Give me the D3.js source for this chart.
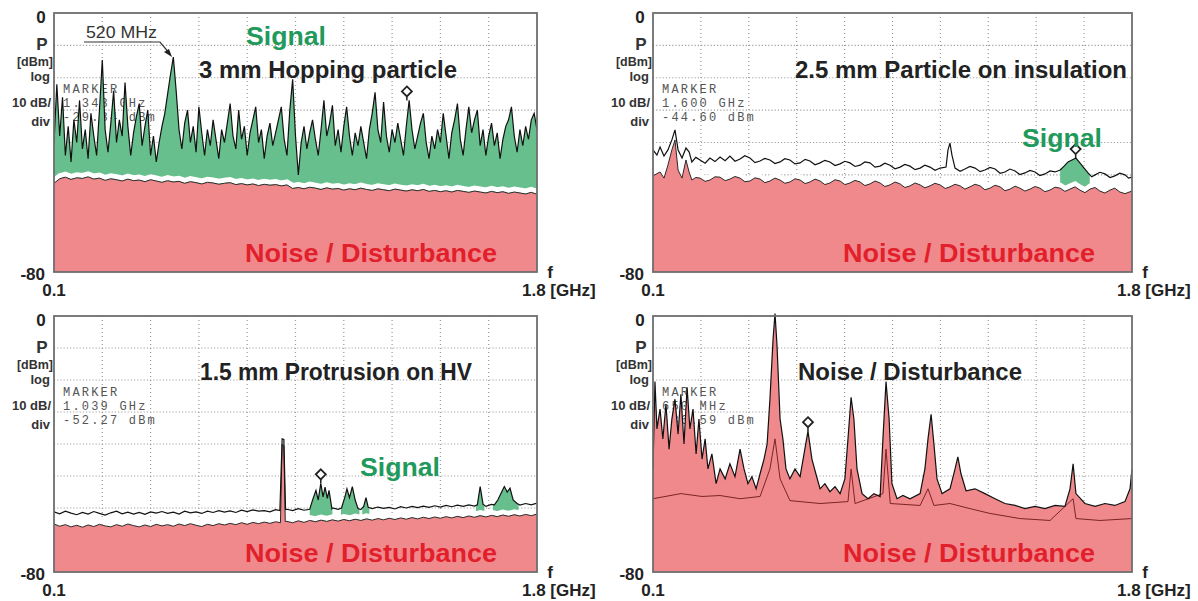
<!DOCTYPE html>
<html>
<head>
<meta charset="utf-8">
<script src="https://cdn.jsdelivr.net/npm/d3@7"></script>
<style>
  body { margin: 0; background: #fff; }
  svg text { font-family: "Liberation Sans", Arial, sans-serif; font-weight: bold; }
  .mk { font-family: "Liberation Mono", "DejaVu Sans Mono", monospace; font-weight: normal; font-size: 12px; fill: #555; letter-spacing: 2.2px; }
</style>
</head>
<body>
<div id="chart"></div>
<script>
// sweep range of the analyser, GHz, and level range, dBm
const fStart = 0.1, fStop = 1.8;
const levelTop = 0, levelBottom = -80;
const levelLabels = ["0", "-80"];
const freqLabels = ["0.1", "1.8 [GHz]"];
const axisNames = ["P", "[dBm]", "log", "10 dB/", "div"];

// ---- panel A : 3 mm hopping particle (signal trace, 0.01 GHz steps)
const sigA = [-40,-22,-38,-26,-44,-35,-46,-33,-40,-27,
  -42,-36,-45,-31,-38,-44,-30,-14.5,-36,-43,
  -34,-24,-40,-33,-38,-21.5,-35,-44,-37,-32,
  -28,-41,-35,-30,-44,-38,-46,-40,-35,-31,
  -25,-19,-13.6,-24,-36,-42,-34,-30,-40,-35,
  -43,-29,-37,-44,-36,-41,-33,-39,-45,-36,
  -40,-34,-28,-38,-42,-30,-39,-35,-44,-37,
  -33,-29,-40,-36,-45,-38,-34,-41,-37,-33,
  -29,-39,-44,-30,-20.5,-38,-50,-40,-35,-42,
  -37,-33,-39,-44,-36,-27,-38,-34,-28.5,-41,
  -36,-43,-35,-29,-38,-44,-37,-41,-35,-40,
  -45,-36,-31,-24.5,-36,-40,-27.5,-38,-43,-36,
  -40,-34,-39,-44,-35,-27,-36,-42,-38,-34,
  -31,-40,-45,-38,-42,-36,-40,-31,-38,-45,
  -37,-33,-28,-39,-44,-36,-29,-37,-33,-30,
  -41,-36,-44,-38,-34,-41,-37,-45,-39,-35,
  -33,-29,-38,-43,-36,-41,-35,-39,-33,-31,-36];
// noise trace, 0.02 GHz steps
const noiseA = [-52.6,-51.2,-50.7,-51.4,-50.9,-51.1,-50.6,-51.3,-51.0,-51.7,
  -51.2,-51.5,-51.9,-51.3,-51.8,-51.6,-52.1,-51.5,-51.9,-52.3,
  -51.8,-52.2,-52.0,-52.6,-52.1,-52.4,-52.8,-52.3,-52.5,-52.9,
  -52.6,-52.4,-53.0,-52.7,-53.1,-52.8,-53.3,-52.9,-53.2,-53.0,
  -53.4,-53.1,-54.2,-53.9,-54.3,-53.8,-54.1,-54.5,-54.0,-54.4,
  -54.2,-54.7,-54.3,-54.6,-54.1,-54.5,-54.8,-54.3,-54.6,-54.9,
  -54.4,-54.7,-55.0,-54.6,-54.9,-54.5,-55.1,-54.8,-55.2,-54.9,
  -55.3,-54.8,-55.1,-55.4,-55.0,-55.3,-55.6,-55.1,-55.5,-55.2,
  -55.7,-55.3,-55.6,-55.9,-55.4,-56.0];
const greenA = [[0.1, 1.8]];
const markerA = { f: 1.342, db: -27, text: ["MARKER", "1.343 GHz", "-29.34 dBm"] };

// ---- panel B : 2.5 mm particle on insulation  [GHz, dBm]
const upperB = [[.100,-42.3],[.114,-43.9],[.125,-41.4],[.139,-44.2],[.153,-42.3],[.167,-39.2],
  [.178,-36.1],[.189,-42.3],[.203,-44.8],[.217,-41.7],[.228,-42.9],[.238,-46.0],[.252,-44.6],
  [.267,-45.4],[.285,-46.4],[.302,-44.8],[.320,-45.9],[.338,-44.5],[.356,-45.6],[.373,-44.2],
  [.391,-45.8],[.409,-45.1],[.426,-44.1],[.444,-44.8],[.462,-46.2],[.480,-45.7],[.497,-44.9],
  [.515,-45.4],[.533,-46.5],[.551,-46.0],[.568,-45.0],[.586,-45.4],[.604,-46.6],[.622,-46.3],
  [.640,-45.2],[.657,-45.7],[.675,-46.9],[.693,-46.3],[.710,-45.5],[.728,-46.0],[.746,-47.1],
  [.764,-46.6],[.781,-45.8],[.799,-46.3],[.817,-47.4],[.835,-47.0],[.852,-46.0],[.870,-46.3],
  [.888,-47.6],[.906,-47.3],[.923,-46.4],[.941,-47.0],[.959,-48.1],[.977,-47.6],[.994,-46.8],
  [1.012,-47.3],[1.030,-48.4],[1.048,-47.9],[1.065,-47.0],[1.083,-47.6],[1.101,-48.6],
  [1.119,-47.9],[1.140,-47.6],[1.147,-42.3],[1.154,-40.2],[1.161,-43.9],[1.172,-47.9],
  [1.190,-48.9],[1.207,-48.2],[1.225,-47.4],[1.243,-47.9],[1.261,-49.0],[1.278,-48.5],
  [1.296,-47.7],[1.314,-48.2],[1.332,-49.5],[1.349,-49.1],[1.367,-48.2],[1.385,-48.8],
  [1.402,-49.9],[1.420,-49.4],[1.438,-48.6],[1.456,-49.1],[1.473,-50.2],[1.491,-49.7],
  [1.509,-48.8],[1.527,-49.1],[1.545,-48.5],[1.559,-47.3],[1.573,-46.0],[1.587,-45.4],
  [1.601,-44.8],[1.615,-46.3],[1.630,-47.9],[1.644,-49.4],[1.657,-50.6],[1.669,-50.0],
  [1.686,-49.2],[1.704,-49.7],[1.722,-50.8],[1.739,-50.3],[1.757,-49.5],[1.775,-50.0],
  [1.788,-51.0],[1.800,-50.7]];
const noiseB = [[.100,-50.3],[.125,-49.1],[.139,-51.0],[.153,-47.0],[.167,-42.3],[.178,-39.2],
  [.189,-48.5],[.203,-51.0],[.217,-45.4],[.228,-49.1],[.238,-51.6],[.252,-50.8],[.267,-51.0],
  [.285,-52.0],[.302,-51.6],[.320,-50.6],[.338,-50.7],[.356,-51.8],[.373,-51.3],[.391,-50.5],
  [.409,-51.0],[.426,-52.1],[.444,-51.9],[.462,-50.9],[.480,-51.3],[.497,-52.4],[.515,-51.9],
  [.533,-51.0],[.551,-51.6],[.568,-52.6],[.586,-52.2],[.604,-51.2],[.622,-51.6],[.640,-52.7],
  [.657,-52.2],[.675,-51.3],[.693,-51.9],[.710,-53.0],[.728,-52.5],[.746,-51.5],[.764,-51.9],
  [.781,-53.0],[.799,-52.5],[.817,-51.7],[.835,-52.2],[.852,-53.3],[.870,-52.8],[.888,-51.9],
  [.906,-52.5],[.923,-53.6],[.941,-53.1],[.959,-52.2],[.977,-52.8],[.994,-53.9],[1.012,-53.4],
  [1.030,-52.5],[1.048,-53.1],[1.065,-54.0],[1.083,-53.4],[1.101,-52.6],[1.119,-53.1],
  [1.137,-54.2],[1.154,-53.7],[1.172,-52.9],[1.190,-53.4],[1.207,-54.4],[1.225,-53.7],
  [1.243,-52.9],[1.261,-53.4],[1.278,-54.6],[1.296,-54.1],[1.314,-53.2],[1.332,-53.7],
  [1.349,-54.9],[1.367,-54.4],[1.385,-53.5],[1.402,-54.1],[1.420,-55.0],[1.438,-54.4],
  [1.456,-53.6],[1.473,-54.1],[1.491,-55.2],[1.509,-54.7],[1.527,-53.8],[1.545,-54.1],
  [1.562,-55.1],[1.580,-54.4],[1.598,-53.7],[1.615,-54.7],[1.633,-55.5],[1.651,-54.4],
  [1.669,-53.9],[1.686,-55.0],[1.704,-55.6],[1.722,-54.7],[1.739,-54.1],[1.757,-55.3],
  [1.775,-55.8],[1.800,-55.0]];
const greenB = [[1.545, 1.65]];
const markerB = { f: 1.600, db: -44.8, text: ["MARKER", "1.600 GHz", "-44.60 dBm"] };

// ---- panel C : 1.5 mm protrusion on HV (0.02 GHz steps + peaks)
const upperC = [-61.2,-61.8,-61.0,-61.6,-62.1,-61.4,-61.9,-61.1,-61.7,-62.2,
  -61.5,-61.0,-61.8,-61.3,-61.9,-61.4,-62.0,-61.2,-61.6,-61.1,
  -61.7,-61.3,-61.9,-61.0,-61.5,-61.2,-61.7,-61.0,-61.4,-60.8,
  -61.3,-60.9,-61.4,-60.7,-61.1,-60.6,-61.0,-60.8,-61.2,-60.5,
  -60.9,-60.4,-60.8,-60.2,-60.7,-60.3,-60.6,-60.1,-60.5,-60.0,
  -60.4,-59.9,-60.3,-60.0,-60.5,-59.8,-60.2,-59.7,-60.1,-59.8,
  -60.3,-59.6,-60.0,-59.5,-59.9,-59.4,-59.8,-59.3,-59.7,-59.2,
  -59.6,-59.1,-59.5,-59.0,-59.4,-59.1,-59.5,-58.9,-59.3,-58.8,
  -59.2,-58.7,-59.1,-58.6,-59.0,-58.5];
const noiseC = [-65.0,-65.7,-65.2,-65.9,-65.4,-66.0,-65.3,-65.8,-65.1,-65.6,
  -65.9,-65.2,-65.7,-65.0,-65.5,-65.9,-65.3,-65.8,-65.1,-65.6,
  -65.2,-65.7,-65.0,-65.5,-64.9,-65.4,-65.8,-65.1,-65.5,-64.9,
  -65.3,-64.8,-65.2,-64.6,-65.1,-64.5,-64.9,-64.4,-64.8,-64.3,
  -64.7,-64.2,-64.6,-64.0,-64.5,-63.9,-64.3,-63.8,-64.2,-63.7,
  -64.1,-63.6,-64.0,-63.5,-63.9,-63.4,-63.8,-63.3,-63.7,-63.2,
  -63.6,-63.1,-63.5,-63.0,-63.4,-62.9,-63.3,-62.8,-63.2,-62.7,
  -63.1,-62.6,-63.0,-62.5,-62.9,-62.4,-62.8,-62.3,-62.7,-62.2,
  -62.6,-62.1,-62.5,-62.0,-62.4,-61.9];
const upperPeaksC = [
  [[.895,-60.8],[.903,-38.4],[.909,-38.6],[.915,-60.5]],
  [[1.000,-60.4],[1.012,-57],[1.022,-54.5],[1.030,-57.5],[1.039,-52.3],[1.047,-56.5],[1.054,-53.5],[1.062,-57],[1.068,-54.5],[1.078,-60.2]],
  [[1.112,-60.0],[1.124,-56.5],[1.131,-54.0],[1.140,-56.8],[1.150,-53.3],[1.160,-57.5],[1.170,-60.2]],
  [[1.190,-59.5],[1.198,-56.8],[1.206,-59.8]],
  [[1.590,-59.0],[1.600,-53.3],[1.610,-58.8]],
  [[1.650,-59.0],[1.662,-57.5],[1.673,-55.5],[1.685,-53.3],[1.695,-55.0],[1.705,-53.8],[1.716,-57.5],[1.730,-58.6]]
];
const noisePeaksC = [[[.897,-64.6],[.903,-40],[.909,-40.5],[.914,-64.2]]];
const greenC = [[1.0, 1.08], [1.11, 1.175], [1.185, 1.21], [1.585, 1.615], [1.645, 1.735]];
const markerC = { f: 1.039, db: -52.3, text: ["MARKER", "1.039 GHz", "-52.27 dBm"] };

// ---- panel D : noise / disturbance only
const upperD = [[.100,-47.8],[.107,-20.5],[.114,-35.3],[.125,-29.1],[.135,-38.4],[.146,-27.6],
  [.157,-41.6],[.167,-32.2],[.178,-26.0],[.189,-36.9],[.199,-24.5],[.210,-40.0],[.221,-22.3],
  [.231,-35.3],[.242,-29.1],[.253,-43.1],[.263,-32.2],[.274,-44.7],[.285,-38.4],[.295,-47.8],
  [.309,-43.1],[.324,-52.4],[.338,-47.8],[.356,-50.9],[.373,-46.2],[.391,-50.2],[.409,-41.6],
  [.423,-47.8],[.437,-52.4],[.451,-50.2],[.466,-54.0],[.480,-49.3],[.494,-44.7],[.505,-40.0],
  [.515,-26.0],[.526,-7.4],[.533,0.8],[.540,-9.0],[.551,-32.2],[.561,-38.4],[.572,-47.8],
  [.586,-50.9],[.604,-47.8],[.622,-50.2],[.636,-43.1],[.650,-36.0],[.664,-44.7],[.678,-49.3],
  [.693,-54.0],[.710,-52.4],[.728,-54.9],[.746,-53.3],[.764,-55.5],[.781,-50.9],[.792,-38.4],
  [.803,-25.4],[.813,-32.2],[.824,-47.8],[.842,-55.5],[.863,-57.1],[.884,-55.5],[.906,-56.4],
  [.916,-38.4],[.927,-20.5],[.938,-32.2],[.948,-52.4],[.966,-57.1],[.987,-56.1],[1.012,-57.1],
  [1.048,-55.5],[1.065,-47.8],[1.076,-38.4],[1.087,-30.7],[1.097,-40.0],[1.108,-50.9],
  [1.126,-55.5],[1.154,-54.0],[1.172,-47.8],[1.182,-44.0],[1.193,-49.3],[1.211,-54.6],
  [1.243,-54.0],[1.278,-55.5],[1.314,-57.1],[1.349,-58.6],[1.385,-59.2],[1.420,-60.2],
  [1.456,-59.5],[1.491,-60.2],[1.527,-59.2],[1.562,-59.5],[1.580,-54.0],[1.591,-46.2],
  [1.601,-55.5],[1.633,-58.6],[1.669,-59.5],[1.704,-58.6],[1.739,-59.2],[1.775,-58.0],
  [1.793,-54.0],[1.800,-47.8]];
const lowerD = [[.100,-57.1],[.199,-55.5],[.274,-56.4],[.338,-56.1],[.409,-57.1],[.480,-56.4],
  [.515,-47.8],[.533,-38.4],[.551,-50.9],[.586,-57.7],[.693,-58.6],[.792,-58.0],[.803,-47.8],
  [.817,-58.6],[.916,-55.5],[.927,-41.6],[.942,-58.6],[1.048,-59.2],[1.076,-54.0],[1.097,-59.2],
  [1.154,-58.6],[1.225,-60.2],[1.296,-61.7],[1.402,-63.3],[1.509,-63.9],[1.591,-57.1],
  [1.601,-63.3],[1.686,-63.9],[1.800,-63.3]];
const markerD = { f: 0.650, db: -36.0, text: ["MARKER", "650 MHz", "-36.59 dBm"] };

// ---------------------------------------------------------------------
function sweep(vals) {
  const idx = d3.scaleLinear().domain([0, vals.length - 1]).range([fStart, fStop]);
  return vals.map((v, i) => [idx(i), v]);
}
function withPeaks(base, groups) {
  let pts = base.filter(p => !groups.some(g => p[0] >= g[0][0] && p[0] <= g[g.length - 1][0]));
  groups.forEach(g => { pts = pts.concat(g); });
  return pts.sort((a, b) => a[0] - b[0]);
}

const w = 1198, h = 601;
const panels = [
  { x: 54, y: 13, w: 483, h: 259, upper: sweep(sigA), noise: sweep(noiseA), green: greenA, band: true,
    marker: markerA, title: "3 mm Hopping particle", titleX: 199, titleY: 78, titleLen: 258,
    signal: [246, 45], noiseLbl: [245, 262] },
  { x: 653, y: 13, w: 479, h: 259, upper: upperB, noise: noiseB, green: greenB, band: true,
    marker: markerB, title: "2.5 mm Particle on insulation", titleX: 795, titleY: 78, titleLen: 332,
    signal: [1022, 147], noiseLbl: [843, 262] },
  { x: 54, y: 316, w: 483, h: 256, upper: withPeaks(sweep(upperC), upperPeaksC),
    noise: withPeaks(sweep(noiseC), noisePeaksC), green: greenC, band: true,
    marker: markerC, title: "1.5 mm Protrusion on HV", titleX: 200, titleY: 380, titleLen: 272,
    signal: [360, 476], noiseLbl: [245, 562] },
  { x: 653, y: 316, w: 479, h: 256, upper: upperD, noise: lowerD, green: [], band: false, redToUpper: true,
    marker: markerD, title: "Noise / Disturbance", titleX: 798, titleY: 380, titleLen: 224,
    signal: null, noiseLbl: [843, 562] }
];

const svg = d3.select("#chart").append("svg")
  .attr("width", w).attr("height", h)
  .style("background", "#fff");
const defs = svg.append("defs");

panels.forEach((p, k) => {
  const x = d3.scaleLinear().domain([fStart, fStop]).range([p.x, p.x + p.w]);
  const y = d3.scaleLinear().domain([levelBottom, levelTop]).range([p.y + p.h, p.y]);
  const line = d3.line().x(d => x(d[0])).y(d => y(d[1]));
  const g = svg.append("g");

  defs.append("clipPath").attr("id", "clip" + k)
    .append("rect").attr("x", p.x).attr("y", p.y - 5).attr("width", p.w).attr("height", p.h + 5);
  const gc = defs.append("clipPath").attr("id", "green" + k);
  p.green.forEach(r => {
    gc.append("rect").attr("x", x(r[0])).attr("y", p.y).attr("width", x(r[1]) - x(r[0])).attr("height", p.h);
  });

  // grid
  const vf = d3.range(1, 10).map(i => fStart + i * (fStop - fStart) / 10);
  g.selectAll(".vg").data(vf).enter().append("line")
    .attr("x1", d => x(d)).attr("x2", d => x(d)).attr("y1", p.y).attr("y2", p.y + p.h)
    .attr("stroke", "#9a9a9a").attr("stroke-width", 1.2).attr("stroke-dasharray", "1,3");
  g.selectAll(".hg").data(d3.range(-70, 0, 10)).enter().append("line")
    .attr("x1", p.x).attr("x2", p.x + p.w).attr("y1", d => y(d)).attr("y2", d => y(d))
    .attr("stroke", "#a0a0a0").attr("stroke-width", 1.2).attr("stroke-dasharray", "1.2,2");

  // marker readout (drawn under the traces)
  g.selectAll(".mk").data(p.marker.text).enter().append("text").attr("class", "mk")
    .attr("x", p.x + 9).attr("y", (d, i) => p.y + 80 + i * 14).text(d => d);

  const tr = g.append("g").attr("clip-path", "url(#clip" + k + ")");
  if (p.green.length) {
    tr.append("path")
      .attr("d", line(p.upper.concat(p.noise.slice().reverse())) + "Z")
      .attr("fill", "#66bf8c").attr("clip-path", "url(#green" + k + ")");
  }
  if (p.band) {
    tr.append("path").attr("d", line(p.noise)).attr("fill", "none")
      .attr("stroke", "#fff").attr("stroke-width", 5).attr("transform", "translate(0,-3)");
  }
  const area = d3.area().x(d => x(d[0])).y0(p.y + p.h).y1(d => y(d[1]));
  tr.append("path").attr("d", area(p.redToUpper ? p.upper : p.noise)).attr("fill", "#f0898c");
  tr.append("path").attr("d", line(p.noise)).attr("fill", "none")
    .attr("stroke", p.redToUpper ? "#7a2426" : "#2a2a2a").attr("stroke-width", 1);
  tr.append("path").attr("d", line(p.upper)).attr("fill", "none")
    .attr("stroke", "#111").attr("stroke-width", 1.2);

  // marker diamond
  const mx = x(p.marker.f), my = y(p.marker.db) - 9;
  g.append("line").attr("x1", mx).attr("x2", mx).attr("y1", my + 5).attr("y2", my + 9)
    .attr("stroke", "#222").attr("stroke-width", 1.5);
  g.append("path").attr("d", `M${mx},${my - 5}L${mx + 5},${my}L${mx},${my + 5}L${mx - 5},${my}Z`)
    .attr("fill", "#fff").attr("stroke", "#222").attr("stroke-width", 1.8);

  // frame
  g.append("rect").attr("x", p.x).attr("y", p.y).attr("width", p.w).attr("height", p.h)
    .attr("fill", "none").attr("stroke", "#6e6e6e").attr("stroke-width", 1.8);

  // level labels
  g.append("text").attr("x", p.x - 13).attr("y", p.y + 10).attr("text-anchor", "middle")
    .attr("font-size", 17).attr("fill", "#222").text(levelLabels[0]);
  g.append("text").attr("x", p.x - 9).attr("y", p.y + p.h + 8).attr("text-anchor", "end")
    .attr("font-size", 17).attr("fill", "#222").text(levelLabels[1]);
  const nameRows = [[p.x - 12, 37, 17, "middle"], [p.x - 1, 53, 12.5, "end"], [p.x - 4, 68, 13, "end"],
    [p.x - 3, 94, 13, "end"], [p.x - 4, 113, 13, "end"]];
  axisNames.forEach((t, i) => {
    const r = nameRows[i];
    g.append("text").attr("x", r[0]).attr("y", p.y + r[1]).attr("text-anchor", r[3])
      .attr("font-size", r[2]).attr("fill", "#333").text(t);
  });
  g.append("text").attr("x", p.x).attr("y", p.y + p.h + 24).attr("text-anchor", "middle")
    .attr("font-size", 17).attr("fill", "#222").text(freqLabels[0]);
  g.append("text").attr("x", p.x + p.w + 13).attr("y", p.y + p.h + 6).attr("text-anchor", "middle")
    .attr("font-size", 17).attr("fill", "#222").text("f");
  g.append("text").attr("x", p.x + p.w - 15).attr("y", p.y + p.h + 24)
    .attr("font-size", 17).attr("fill", "#222").text(freqLabels[1]);

  // titles and region labels
  g.append("text").attr("x", p.titleX).attr("y", p.titleY).attr("font-size", 23)
    .attr("fill", "#222").attr("textLength", p.titleLen).attr("lengthAdjust", "spacingAndGlyphs")
    .text(p.title);
  if (p.signal) {
    g.append("text").attr("x", p.signal[0]).attr("y", p.signal[1]).attr("font-size", 25)
      .attr("fill", "#1f9a5c").attr("textLength", 80).attr("lengthAdjust", "spacingAndGlyphs")
      .text("Signal");
  }
  g.append("text").attr("x", p.noiseLbl[0]).attr("y", p.noiseLbl[1]).attr("font-size", 26)
    .attr("fill", "#e2202c").attr("textLength", 252).attr("lengthAdjust", "spacingAndGlyphs")
    .text("Noise / Disturbance");
});

// 520 MHz call-out in panel A
const ann = svg.append("g");
ann.append("text").attr("x", 86).attr("y", 38).attr("font-size", 16).style("font-weight", "normal")
  .attr("fill", "#333").attr("textLength", 71).attr("lengthAdjust", "spacingAndGlyphs").text("520 MHz");
ann.append("path").attr("d", "M84,42L160,42L170,54").attr("fill", "none").attr("stroke", "#333").attr("stroke-width", 1.2);
ann.append("path").attr("d", "M172,57L164,52L169,49Z").attr("fill", "#222");
</script>
</body>
</html>
